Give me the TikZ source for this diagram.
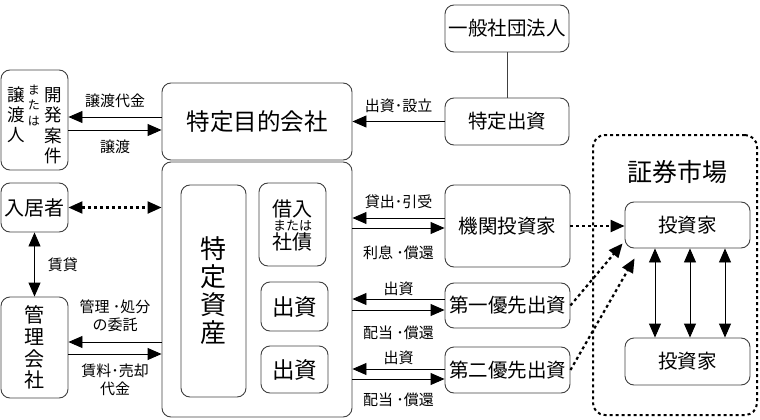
\documentclass[tikz,border=0pt]{standalone}
\usepackage{fontspec}
\setmainfont{Noto Sans CJK JP}
\usetikzlibrary{arrows.meta}

\newcommand{\fslbl}{\fontsize{15}{18}\selectfont}
\newcommand{\fsbox}{\fontsize{19.5}{22}\selectfont}

\tikzset{
  box/.style={draw=black!75, line width=0.9pt, rounded corners=9pt, inner sep=0pt, align=center, font=\fsbox},
  mktbox/.style={draw, line width=2pt, dash pattern=on 3pt off 3pt, rounded corners=12pt, inner sep=0pt},
  arr/.style={-{Triangle[length=14pt,width=12pt]}, line width=0.9pt},
  biarr/.style={{Triangle[length=14pt,width=12pt]}-{Triangle[length=14pt,width=12pt]}, line width=0.9pt},
  dotarr/.style={-{Triangle[length=14pt,width=12pt]}, line width=2.2pt, dash pattern=on 3pt off 3pt},
  lbl/.style={font=\fslbl, inner sep=0pt, align=center},
}

\begin{document}
\begin{tikzpicture}[x=1pt, y=-1pt]
  \useasboundingbox (0,0) rectangle (760,420);

  % centre column
  \node[box, minimum width=190, minimum height=77, font=\fontsize{23.5}{26}\selectfont] (spc) at (257,121.5) {特定目的会社};
  \node[box, minimum width=190, minimum height=255] (outer) at (257,289.5) {};
  \node[box, minimum width=65, minimum height=212, font=\fontsize{26}{28}\selectfont] (asset) at (213.5,291) {特\\定\\資\\産};
  \node[box, minimum width=67, minimum height=83, font=\fontsize{20}{0}\selectfont] (loan) at (292.5,224.5)
    {\rule{0pt}{16pt}\smash{借入}\\[14.4pt]\smash{\fontsize{13}{0}\selectfont または}\\[18.6pt]\smash{社債}};
  \node[box, minimum width=67, minimum height=49, font=\fontsize{22.5}{24}\selectfont] (eq1) at (294.5,306.5) {出資};
  \node[box, minimum width=67, minimum height=47, font=\fontsize{22.5}{24}\selectfont] (eq2) at (294.5,369.5) {出資};

  % right column
  \node[box, minimum width=124, minimum height=47] (ippan) at (507,28.5) {一般社団法人};
  \node[box, minimum width=124, minimum height=47] (tokutei) at (507,121.5) {特定出資};
  \node[box, minimum width=125, minimum height=82] (kikan) at (507.5,226) {機関投資家};
  \node[box, minimum width=125, minimum height=45] (pref1) at (507.5,305.5) {第一優先出資};
  \node[box, minimum width=125, minimum height=46] (pref2) at (507.5,370) {第二優先出資};

  % left column
  \node[box, minimum width=67, minimum height=100] (kaihatsu) at (34.5,120) {%
    \rule{0pt}{30pt}%
    {\fontsize{17.5}{20}\selectfont\begin{tabular}[t]{@{}c@{}}譲\\渡\\人\end{tabular}}\hspace{3pt}%
    \raisebox{7pt}{\fontsize{12}{15.5}\selectfont\begin{tabular}[t]{@{}c@{}}ま\\た\\は\end{tabular}}\hspace{4pt}%
    {\fontsize{17.5}{20}\selectfont\begin{tabular}[t]{@{}c@{}}開\\発\\案\\件\end{tabular}}};
  \node[box, minimum width=67, minimum height=49, font=\fontsize{20}{22}\selectfont] (tenant) at (34.5,207.5) {入居者};
  \node[box, minimum width=67, minimum height=101, font=\fontsize{20}{21.7}\selectfont] (kanri) at (34.5,347.5) {管\\理\\会\\社};

  % market
  \node[mktbox, minimum width=164, minimum height=280] (market) at (675,275) {};
  \node[font=\fontsize{25}{27}\selectfont, inner sep=0pt] (mkttitle) at (677,172) {証券市場};
  \node[box, minimum width=125, minimum height=46] (inv1) at (687.5,225) {投資家};
  \node[box, minimum width=125, minimum height=47] (inv2) at (687.5,361.5) {投資家};

  % connectors
  \draw[line width=0.9pt, black!75] (ippan) -- (tokutei);
  \draw[arr] (tokutei.west) -- (tokutei.west -| spc.east) node[lbl, midway, yshift=16pt] {出資･設立};

  \draw[arr] ([yshift=4.5pt]spc.west) -- ([yshift=4.5pt]spc.west -| kaihatsu.east) node[lbl, midway, yshift=16pt] {譲渡代金};
  \draw[arr] ([yshift=-8.5pt]spc.west -| kaihatsu.east) -- ([yshift=-8.5pt]spc.west) node[lbl, midway, yshift=-17pt] {譲渡};

  \draw[biarr, line width=2.2pt, dash pattern=on 3pt off 3pt] (tenant.east) -- (tenant.east -| outer.west);
  \draw[biarr] (tenant.south) -- (kanri.north) node[lbl, midway, right=13pt] {賃貸};

  \draw[arr] ([yshift=5.5pt]kanri.east -| outer.west) -- ([yshift=5.5pt]kanri.east) node[lbl, midway, yshift=26pt] {管理 ･処分\\の委託};
  \draw[arr] ([yshift=-6.5pt]kanri.east) -- ([yshift=-6.5pt]kanri.east -| outer.west) node[lbl, midway, yshift=-26pt] {賃料･売却\\代金};

  \draw[arr] ([yshift=8pt]kikan.west) -- ([yshift=8pt]kikan.west -| outer.east) node[lbl, midway, yshift=16pt] {貸出･引受};
  \draw[arr] ([yshift=-2pt]kikan.west -| outer.east) -- ([yshift=-2pt]kikan.west) node[lbl, midway, yshift=-25pt] {利息 ･償還};

  \draw[arr] ([yshift=6.5pt]pref1.west) -- ([yshift=6.5pt]pref1.west -| outer.east) node[lbl, midway, yshift=10pt] {出資};
  \draw[arr] ([yshift=-4.5pt]pref1.west -| outer.east) -- ([yshift=-4.5pt]pref1.west) node[lbl, midway, yshift=-23pt] {配当 ･償還};

  \draw[arr] ([yshift=1pt]pref2.west) -- ([yshift=1pt]pref2.west -| outer.east) node[lbl, midway, yshift=11pt] {出資};
  \draw[arr] ([yshift=-9pt]pref2.west -| outer.east) -- ([yshift=-9pt]pref2.west) node[lbl, midway, yshift=-21pt] {配当 ･償還};

  \draw[dotarr] (kikan.east) -- (kikan.east -| inv1.west);
  \draw[dotarr] (pref1.east) -- ([xshift=-2pt, yshift=5pt]inv1.south west);
  \draw[dotarr] (pref2.east) -- ([xshift=10pt, yshift=-10pt]inv1.south west);

  \draw[biarr] ([xshift=-32.5pt]inv1.south) -- ([xshift=-32.5pt]inv2.north);
  \draw[biarr] ([xshift=2.5pt]inv1.south) -- ([xshift=2.5pt]inv2.north);
  \draw[biarr] ([xshift=37.5pt]inv1.south) -- ([xshift=37.5pt]inv2.north);
\end{tikzpicture}
\end{document}
